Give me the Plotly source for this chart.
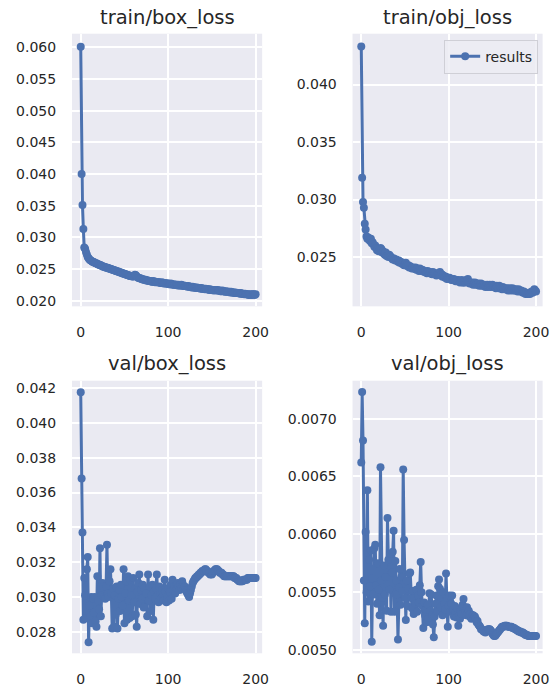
import plotly.graph_objects as go

epochs = list(range(201))

train_box_loss = [
    0.0601, 0.0400, 0.0351, 0.0313, 0.0284, 0.0282, 0.0277, 0.0273, 0.0269, 0.0267, 0.0265,
    0.0264, 0.0263, 0.0262, 0.0261, 0.0261, 0.0260, 0.0259, 0.0259, 0.0258, 0.0257,
    0.0257, 0.0256, 0.0256, 0.0255, 0.0254, 0.0254, 0.0253, 0.0253, 0.0252, 0.0252,
    0.0252, 0.0251, 0.0251, 0.0250, 0.0250, 0.0249, 0.0249, 0.0248, 0.0248, 0.0247,
    0.0247, 0.0246, 0.0246, 0.0245, 0.0245, 0.0244, 0.0244, 0.0243, 0.0243, 0.0242,
    0.0242, 0.0241, 0.0241, 0.0240, 0.0240, 0.0239, 0.0239, 0.0239, 0.0238, 0.0238,
    0.0239, 0.0241, 0.0240, 0.0238, 0.0237, 0.0236, 0.0236, 0.0235, 0.0235, 0.0234,
    0.0234, 0.0233, 0.0233, 0.0233, 0.0232, 0.0232, 0.0232, 0.0231, 0.0231, 0.0231,
    0.0230, 0.0230, 0.0231, 0.0230, 0.0229, 0.0230, 0.0229, 0.0229, 0.0229, 0.0229,
    0.0228, 0.0228, 0.0229, 0.0228, 0.0227, 0.0228, 0.0227, 0.0227, 0.0227, 0.0227,
    0.0226, 0.0226, 0.0227, 0.0226, 0.0225, 0.0226, 0.0225, 0.0225, 0.0225, 0.0225,
    0.0224, 0.0225, 0.0224, 0.0224, 0.0225, 0.0224, 0.0223, 0.0224, 0.0223, 0.0223,
    0.0223, 0.0222, 0.0223, 0.0222, 0.0222, 0.0222, 0.0221, 0.0222, 0.0221, 0.0221,
    0.0221, 0.0220, 0.0221, 0.0220, 0.0220, 0.0220, 0.0219, 0.0220, 0.0219, 0.0219,
    0.0219, 0.0218, 0.0219, 0.0218, 0.0218, 0.0218, 0.0217, 0.0218, 0.0217, 0.0217,
    0.0217, 0.0216, 0.0217, 0.0217, 0.0216, 0.0217, 0.0216, 0.0216, 0.0216, 0.0215,
    0.0215, 0.0216, 0.0215, 0.0215, 0.0214, 0.0215, 0.0214, 0.0214, 0.0214, 0.0214,
    0.0213, 0.0214, 0.0213, 0.0213, 0.0213, 0.0212, 0.0213, 0.0212, 0.0212, 0.0212,
    0.0212, 0.0211, 0.0212, 0.0211, 0.0211, 0.0211, 0.0210, 0.0211, 0.0210, 0.0210,
    0.0210, 0.0209, 0.0210, 0.0209, 0.0210, 0.0209, 0.0210, 0.0210, 0.0209, 0.0210,
]

train_obj_loss = [
    0.0433, 0.0319, 0.0298, 0.0293, 0.0279, 0.0274, 0.0268, 0.0266, 0.0267, 0.0265, 0.0264,
    0.0266, 0.0262, 0.0263, 0.0261, 0.0259, 0.0260, 0.0258, 0.0256, 0.0257, 0.0255,
    0.0256, 0.0258, 0.0257, 0.0254, 0.0255, 0.0253, 0.0252, 0.0254, 0.0251, 0.0251,
    0.0250, 0.0252, 0.0251, 0.0250, 0.0249, 0.0248, 0.0249, 0.0248, 0.0247, 0.0248,
    0.0247, 0.0246, 0.0247, 0.0245, 0.0246, 0.0245, 0.0244, 0.0245, 0.0243, 0.0244,
    0.0245, 0.0243, 0.0242, 0.0243, 0.0241, 0.0242, 0.0241, 0.0240, 0.0241, 0.0240,
    0.0240, 0.0241, 0.0239, 0.0240, 0.0239, 0.0238, 0.0240, 0.0239, 0.0238, 0.0239,
    0.0238, 0.0237, 0.0238, 0.0237, 0.0236, 0.0238, 0.0237, 0.0236, 0.0237, 0.0236,
    0.0235, 0.0237, 0.0236, 0.0235, 0.0236, 0.0234, 0.0235, 0.0236, 0.0235, 0.0237,
    0.0234, 0.0235, 0.0233, 0.0234, 0.0233, 0.0232, 0.0233, 0.0231, 0.0232, 0.0231,
    0.0232, 0.0231, 0.0230, 0.0231, 0.0230, 0.0231, 0.0230, 0.0229, 0.0230, 0.0229,
    0.0230, 0.0229, 0.0228, 0.0229, 0.0230, 0.0228, 0.0228, 0.0229, 0.0228, 0.0230,
    0.0229, 0.0231, 0.0228, 0.0227, 0.0228, 0.0227, 0.0228, 0.0226, 0.0227, 0.0228,
    0.0226, 0.0227, 0.0226, 0.0227, 0.0225, 0.0226, 0.0227, 0.0225, 0.0226, 0.0225,
    0.0226, 0.0224, 0.0225, 0.0226, 0.0224, 0.0225, 0.0226, 0.0224, 0.0225, 0.0226,
    0.0224, 0.0225, 0.0224, 0.0223, 0.0225, 0.0224, 0.0223, 0.0225, 0.0224, 0.0223,
    0.0222, 0.0224, 0.0223, 0.0222, 0.0223, 0.0222, 0.0223, 0.0221, 0.0222, 0.0223,
    0.0221, 0.0222, 0.0223, 0.0221, 0.0222, 0.0221, 0.0222, 0.0221, 0.0220, 0.0222,
    0.0221, 0.0220, 0.0221, 0.0220, 0.0219, 0.0220, 0.0219, 0.0218, 0.0219, 0.0218,
    0.0218, 0.0219, 0.0218, 0.0219, 0.0220, 0.0219, 0.0220, 0.0222, 0.0221, 0.0220,
]

val_box_loss = [
    0.04175, 0.0368, 0.0337, 0.0287, 0.0311, 0.0301, 0.0288, 0.0316, 0.0323, 0.0274, 0.0295,
    0.0289, 0.0300, 0.0285, 0.0299, 0.0291, 0.0300, 0.0286, 0.0283, 0.0312, 0.0298,
    0.0293, 0.0328, 0.0289, 0.0301, 0.0308, 0.0306, 0.0300, 0.0299, 0.0306, 0.0330,
    0.0302, 0.0300, 0.0309, 0.0316, 0.0302, 0.0282, 0.0305, 0.0283, 0.0301, 0.0290,
    0.0306, 0.0282, 0.0299, 0.0304, 0.0292, 0.0307, 0.0300, 0.0295, 0.0316, 0.0285,
    0.0302, 0.0309, 0.0287, 0.0312, 0.0298, 0.0288, 0.0310, 0.0301, 0.0289, 0.0311,
    0.0297, 0.0305, 0.0290, 0.0283, 0.0303, 0.0308, 0.0313, 0.0296, 0.0304, 0.0299,
    0.0307, 0.0294, 0.0305, 0.0300, 0.0302, 0.0289, 0.0313, 0.0298, 0.0306, 0.0292,
    0.0301, 0.0307, 0.0287, 0.0303, 0.0299, 0.0305, 0.0313, 0.0301, 0.0297, 0.0306,
    0.0302, 0.0299, 0.0304, 0.0301, 0.0298, 0.0310, 0.0303, 0.0297, 0.0300, 0.0305,
    0.0298, 0.0303, 0.0307, 0.0299, 0.0310, 0.0304, 0.0306, 0.0302, 0.0307, 0.0305,
    0.0308, 0.0306, 0.0304, 0.0307, 0.0305, 0.0309, 0.0307, 0.0305, 0.0306, 0.0304,
    0.0303, 0.0302, 0.0301, 0.0300, 0.0302, 0.0304, 0.0306, 0.0308, 0.0309, 0.0310,
    0.0311, 0.0311, 0.0312, 0.0312, 0.0313, 0.0313, 0.0314, 0.0314, 0.0315, 0.0315,
    0.0315, 0.0316, 0.0316, 0.0315, 0.0315, 0.0314, 0.0314, 0.0313, 0.0314, 0.0313,
    0.0314, 0.0315, 0.0315, 0.0316, 0.0316, 0.0316, 0.0315, 0.0315, 0.0314, 0.0314,
    0.0314, 0.0313, 0.0313, 0.0312, 0.0312, 0.0312, 0.0312, 0.0312, 0.0312, 0.0312,
    0.0312, 0.0312, 0.0312, 0.0312, 0.0312, 0.0311, 0.0311, 0.0311, 0.0310, 0.0310,
    0.0309, 0.0309, 0.0309, 0.0309, 0.0309, 0.0310, 0.0310, 0.0310, 0.0310, 0.0310,
    0.0311, 0.0311, 0.0311, 0.0311, 0.0311, 0.0311, 0.0311, 0.0311, 0.0311, 0.0311,
]

val_obj_loss = [
    0.00662, 0.00723, 0.00681, 0.00560, 0.00523, 0.00602, 0.00550, 0.00638, 0.00542, 0.00578, 0.00555,
    0.00586, 0.00507, 0.00562, 0.00548, 0.00588, 0.00591, 0.00556, 0.00540, 0.00575, 0.00552,
    0.00530, 0.00658, 0.00560, 0.00545, 0.00521, 0.00573, 0.00548, 0.00563, 0.00534, 0.00614,
    0.00578, 0.00552, 0.00583, 0.00533, 0.00567, 0.00585, 0.00603, 0.00533, 0.00577, 0.00560,
    0.00548, 0.00509, 0.00554, 0.00570, 0.00539, 0.00563, 0.00551, 0.00656, 0.00595, 0.00545,
    0.00526, 0.00560, 0.00538, 0.00553, 0.00566, 0.00567, 0.00545, 0.00536, 0.00551, 0.00531,
    0.00545, 0.00540, 0.00552, 0.00533, 0.00547, 0.00541, 0.00556, 0.00576, 0.00550, 0.00538,
    0.00519, 0.00541, 0.00530, 0.00535, 0.00524, 0.00539, 0.00527, 0.00549, 0.00534, 0.00548,
    0.00530, 0.00522, 0.00511, 0.00529, 0.00540, 0.00547, 0.00533, 0.00555, 0.00561, 0.00553,
    0.00537, 0.00545, 0.00530, 0.00550, 0.00540, 0.00535, 0.00566, 0.00545, 0.00520, 0.00538,
    0.00547, 0.00533, 0.00540, 0.00547, 0.00535, 0.00529, 0.00538, 0.00532, 0.00528, 0.00536,
    0.00521, 0.00530, 0.00527, 0.00535, 0.00531, 0.00539, 0.00544, 0.00536, 0.00533, 0.00530,
    0.00537, 0.00531, 0.00534, 0.00529, 0.00531, 0.00527, 0.00530, 0.00530, 0.00528, 0.00529,
    0.00527, 0.00524, 0.00525, 0.00522, 0.00521, 0.00520, 0.00518, 0.00518, 0.00517, 0.00516,
    0.00516, 0.00515, 0.00516, 0.00517, 0.00518, 0.00518, 0.00518, 0.00517, 0.00516, 0.00514,
    0.00513, 0.00512, 0.00512, 0.00513, 0.00514, 0.00515, 0.00516, 0.00517, 0.00518, 0.00519,
    0.00520, 0.00520, 0.00520, 0.00521, 0.00521, 0.00521, 0.00521, 0.00520, 0.00520, 0.00520,
    0.00520, 0.00520, 0.00519, 0.00519, 0.00519, 0.00518, 0.00518, 0.00517, 0.00517, 0.00516,
    0.00516, 0.00516, 0.00515, 0.00515, 0.00515, 0.00514, 0.00514, 0.00513, 0.00513, 0.00513,
    0.00512, 0.00512, 0.00512, 0.00512, 0.00512, 0.00512, 0.00512, 0.00512, 0.00512, 0.00512,
]

titles = ["train/box_loss", "train/obj_loss", "val/box_loss", "val/obj_loss"]
series = [train_box_loss, train_obj_loss, val_box_loss, val_obj_loss]
x_ticks = [0, 100, 200]
y_ticks = [
    [0.020, 0.025, 0.030, 0.035, 0.040, 0.045, 0.050, 0.055, 0.060],
    [0.025, 0.030, 0.035, 0.040],
    [0.028, 0.030, 0.032, 0.034, 0.036, 0.038, 0.040, 0.042],
    [0.0050, 0.0055, 0.0060, 0.0065, 0.0070],
]
y_formats = [".3f", ".3f", ".3f", ".4f"]
y_ranges = [
    [0.01911, 0.06214],
    [0.02072, 0.04442],
    [0.02677, 0.04242],
    [0.004971, 0.007328],
]

W, H = 558, 694
BLUE = "#4C72B0"
TXT = "#262626"
FONT = "DejaVu Sans"


def px_x(v):
    return v / W


def px_y(v):
    return 1 - v / H


# window-pixel boxes of each axes: (left, right, top, bottom)
boxes = [
    (72.9, 265.5, 33, 308),
    (357.0, 549.5, 33, 308),
    (72.9, 265.5, 383, 658),
    (357.0, 549.5, 383, 658),
]
title_y = [17, 17, 366, 366]

fig = go.Figure()
layout = dict(
    width=W, height=H,
    margin=dict(l=0, r=0, t=0, b=0),
    paper_bgcolor="white",
    plot_bgcolor="#EAEAF2",
    font=dict(family=FONT, size=14, color=TXT),
    showlegend=True,
    legend=dict(
        x=px_x(545), xanchor="right", y=px_y(39), yanchor="top",
        bgcolor="rgba(236,236,243,0.85)", bordercolor="#CFCFD6", borderwidth=1,
        font=dict(family=FONT, size=14, color=TXT),
        itemwidth=30, tracegroupgap=0,
    ),
    annotations=[],
)

for i in range(4):
    n = "" if i == 0 else str(i + 1)
    l, r, t, b = boxes[i]
    fig.add_trace(go.Scatter(
        x=epochs, y=series[i], mode="lines+markers",
        name="results", showlegend=(i == 1),
        line=dict(color=BLUE, width=3),
        marker=dict(color=BLUE, size=8),
        xaxis="x" + n, yaxis="y" + n,
    ))
    layout["xaxis" + n] = dict(
        domain=[px_x(l), px_x(r)], anchor="y" + n,
        range=[-10, 207.5], tickvals=x_ticks,
        showgrid=True, gridcolor="white", gridwidth=1.5,
        zeroline=False, showline=False,
        ticks="outside", ticklen=13, tickcolor="rgba(0,0,0,0)",
        tickfont=dict(family=FONT, size=14, color=TXT),
    )
    layout["yaxis" + n] = dict(
        domain=[px_y(b), px_y(t)], anchor="x" + n,
        range=y_ranges[i], tickvals=y_ticks[i], tickformat=y_formats[i],
        showgrid=True, gridcolor="white", gridwidth=1.5,
        zeroline=False, showline=False,
        ticks="outside", ticklen=12, tickcolor="rgba(0,0,0,0)",
        tickfont=dict(family=FONT, size=14, color=TXT),
    )
    layout["annotations"].append(dict(
        text=titles[i], xref="paper", yref="paper",
        x=px_x((l + r) / 2), y=px_y(title_y[i]),
        xanchor="center", yanchor="middle", showarrow=False,
        font=dict(family=FONT, size=19.5, color=TXT),
    ))

fig.update_layout(**layout)
# remove the browser's default 8px body margin so the 558x694 figure fills the window
fig.write_html(
    "out.html",
    config={"displayModeBar": False},
    post_script="document.body.style.margin='0';",
)
